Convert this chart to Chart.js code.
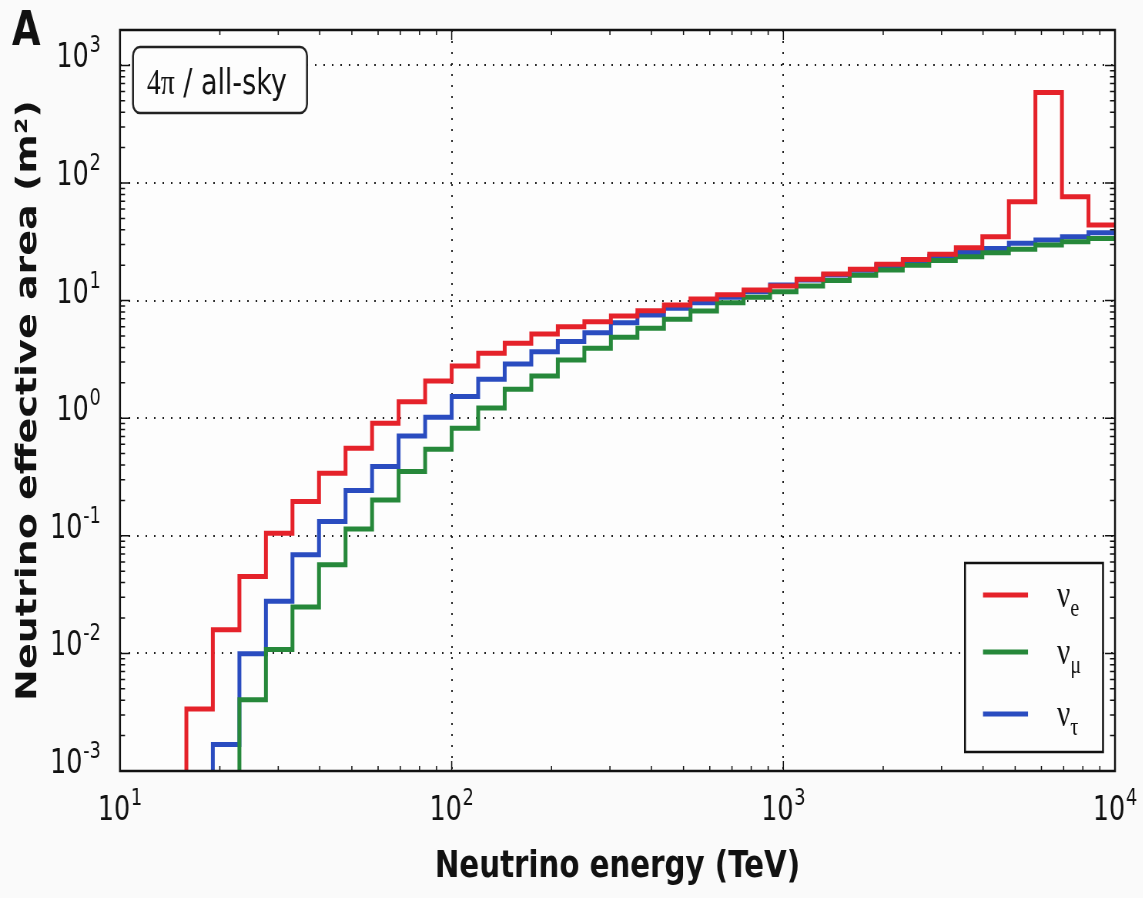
<!DOCTYPE html>
<html>
<head>
<meta charset="utf-8">
<title>Neutrino effective area</title>
<script src="https://cdn.jsdelivr.net/npm/chart.js@4.4.1/dist/chart.umd.min.js"></script>
<style>
    html, body { margin: 0; padding: 0; background: #fafafa; overflow: hidden; }
    /* the source figure is squeezed horizontally, so draw wide and squeeze */
    #wrap { position: absolute; left: 0; top: 0; width: 1485px; height: 898px;
            transform: scaleX(0.77); transform-origin: 0 0; }
</style>
</head>
<body>
<div id="wrap"><canvas id="chart" width="1485" height="898"></canvas></div>
<script>
const SX = 0.77;

// bin edges (TeV), 0.08 dex wide
const binEdges = [15.85, 19.05, 22.91, 27.54, 33.11, 39.81, 47.86, 57.54, 69.18, 83.18,
    100, 120.2, 144.5, 173.8, 208.9, 251.2, 302.0, 363.1, 436.5, 524.8,
    631.0, 758.6, 912.0, 1096, 1318, 1585, 1905, 2291, 2754, 3311,
    3981, 4786, 5754, 6918, 8318, 10000];

// effective area per bin (m^2)
const nuE = [0.00337, 0.0159, 0.045, 0.105, 0.196, 0.341, 0.556, 0.908, 1.38, 2.07,
    2.78, 3.57, 4.34, 5.2, 6.0, 6.62, 7.4, 8.2, 9.18, 10.3,
    11.2, 12.3, 13.3, 15.2, 16.8, 18.5, 20.4, 22.4, 24.8, 28.2,
    34.9, 69.2, 589, 76.3, 43.9];
const nuMu = [null, null, 0.00404, 0.0108, 0.0248, 0.0567, 0.114, 0.202, 0.352, 0.545,
    0.82, 1.22, 1.76, 2.29, 3.13, 3.93, 4.88, 5.82, 6.94, 8.16,
    9.6, 10.7, 11.9, 13.3, 14.8, 16.4, 18.2, 20.0, 21.9, 23.6,
    25.5, 27.3, 29.7, 31.6, 33.8];
const nuTau = [null, 0.00168, 0.00993, 0.0277, 0.069, 0.132, 0.243, 0.388, 0.707, 1.02,
    1.53, 2.14, 2.89, 3.68, 4.48, 5.34, 6.49, 7.55, 8.6, 9.6,
    10.7, 11.9, 13.6, 15.0, 16.5, 18.1, 19.9, 21.9, 23.8, 25.6,
    27.8, 30.7, 32.7, 34.9, 37.8];

const seriesNames = ['e', 'μ', 'τ'];
const seriesColors = ['#e5222a', '#26883a', '#2a4cc0'];

// tick labels are "10" with these exponents
const xTickValues = [10, 100, 1000, 10000];
const xTickExps = ['1', '2', '3', '4'];
const yTickValues = [0.001, 0.01, 0.1, 1, 10, 100, 1000];
const yTickExps = ['-3', '-2', '-1', '0', '1', '2', '3'];
const xMin = 10, xMax = 10000, yMin = 0.001, yMax = 2000;

// decade ticks plus 2..9 minor ticks
function logTicks(decades, min, max) {
    const out = [];
    decades.forEach((d) => {
        for (let m = 1; m <= 9; m++) {
            const v = d * m;
            if (v >= min && v <= max) out.push({ value: v, major: m === 1 });
        }
    });
    return out;
}

// histogram outline: rise from below the axis, then one level per bin
function stepPoints(values) {
    const first = values.findIndex((v) => v != null);
    const pts = [{ x: binEdges[first], y: 1e-4 }];
    for (let i = first; i < values.length; i++) {
        pts.push({ x: binEdges[i], y: values[i] });
    }
    pts.push({ x: binEdges[values.length], y: values[values.length - 1] });
    return pts;
}

const BASE_FONT = '33px "DejaVu Sans"';
const EXP_FONT = '23px "DejaVu Sans"';

function powerLabel(ctx, exp, x, baseline, align) {
    ctx.font = BASE_FONT;
    const wb = ctx.measureText('10').width;
    ctx.font = EXP_FONT;
    const we = ctx.measureText(exp).width;
    const total = wb + 1 + we;
    const left = align === 'right' ? x - total : x - total / 2;
    ctx.font = BASE_FONT;
    ctx.fillText('10', left, baseline);
    ctx.font = EXP_FONT;
    ctx.fillText(exp, left + wb + 1, baseline - 15);
}

const decor = {
    id: 'decor',
    beforeDraw(chart) {
        const { ctx, chartArea: a } = chart;
        ctx.save();
        ctx.fillStyle = '#fdfdfd';
        ctx.fillRect(a.left, a.top, a.width, a.height);
        ctx.restore();
    },
    afterDatasetsDraw(chart) {
        const { ctx, chartArea: a, scales: { x, y } } = chart;
        ctx.save();
        ctx.strokeStyle = '#111';
        ctx.lineWidth = 1.5;
        ctx.beginPath();
        x.ticks.forEach((t) => {
            const px = x.getPixelForValue(t.value);
            const len = t.major ? 10 : 5;
            ctx.moveTo(px, a.bottom); ctx.lineTo(px, a.bottom - len);
            ctx.moveTo(px, a.top); ctx.lineTo(px, a.top + len);
        });
        y.ticks.forEach((t) => {
            const py = y.getPixelForValue(t.value);
            const len = (t.major ? 10 : 5) / SX;
            ctx.moveTo(a.left, py); ctx.lineTo(a.left + len, py);
            ctx.moveTo(a.right, py); ctx.lineTo(a.right - len, py);
        });
        ctx.stroke();

        // frame
        ctx.lineWidth = 2.5;
        ctx.strokeRect(a.left, a.top, a.width, a.height);

        // tick labels
        ctx.fillStyle = '#111';
        ctx.textBaseline = 'alphabetic';
        xTickValues.forEach((v, i) => {
            powerLabel(ctx, xTickExps[i], x.getPixelForValue(v), a.bottom + 49, 'center');
        });
        yTickValues.forEach((v, i) => {
            powerLabel(ctx, yTickExps[i], a.left - 25, y.getPixelForValue(v) + 2, 'right');
        });

        // panel letter
        ctx.font = 'bold 48px "DejaVu Sans"';
        ctx.fillText('A', 12 / SX, 45);

        // "4π / all-sky" box
        const bx = a.left + 13 / SX, by = a.top + 17, bw = 174 / SX, bh = 66;
        ctx.lineWidth = 2.5;
        ctx.strokeStyle = '#222';
        ctx.fillStyle = '#fdfdfd';
        ctx.beginPath();
        ctx.roundRect(bx, by, bw, bh, 9);
        ctx.fill();
        ctx.stroke();
        ctx.fillStyle = '#111';
        ctx.font = '36px "Liberation Serif"';
        const tx = bx + 18;
        ctx.fillText('4π', tx, by + 47);
        const w1 = ctx.measureText('4π').width;
        ctx.font = '35px "DejaVu Sans"';
        ctx.fillText(' / all-sky', tx + w1, by + 47);

        // legend
        const lw = 138 / SX, lh = 189;
        const lx = a.right - 12 / SX - lw, ly = a.bottom - 19 - lh;
        ctx.fillStyle = '#fdfdfd';
        ctx.fillRect(lx, ly, lw, lh);
        ctx.strokeStyle = '#111';
        ctx.lineWidth = 2.5;
        ctx.strokeRect(lx, ly, lw, lh);
        const rowY = [32, 89, 151];
        chart.data.datasets.forEach((ds, i) => {
            const ry = ly + rowY[i];
            ctx.strokeStyle = ds.borderColor;
            ctx.lineWidth = 5;
            ctx.beginPath();
            ctx.moveTo(lx + 18 / SX, ry);
            ctx.lineTo(lx + 63 / SX, ry);
            ctx.stroke();
            ctx.fillStyle = '#111';
            ctx.font = '38px "Liberation Serif"';
            ctx.fillText('ν', lx + 92 / SX, ry + 12);
            const nw = ctx.measureText('ν').width;
            ctx.font = '26px "Liberation Serif"';
            ctx.fillText(seriesNames[i], lx + 92 / SX + nw, ry + 21);
        });
        ctx.restore();
    },
};

const gridColor = (c) => (c.tick && c.tick.major ? '#222' : 'rgba(0,0,0,0)');

new Chart(document.getElementById('chart'), {
    type: 'line',
    data: {
        datasets: [nuE, nuMu, nuTau].map((vals, i) => ({
            label: 'ν' + seriesNames[i],
            data: stepPoints(vals),
            borderColor: seriesColors[i],
            borderWidth: 5,
            stepped: 'before',
            pointRadius: 0,
            fill: false,
            clip: 0,
        })),
    },
    options: {
        responsive: false,
        animation: false,
        devicePixelRatio: 1,
        layout: { padding: { top: 30, right: 1485 - 1115 / SX, left: 0, bottom: 0 } },
        plugins: { legend: { display: false }, tooltip: { enabled: false } },
        scales: {
            x: {
                type: 'logarithmic',
                min: xMin,
                max: xMax,
                afterBuildTicks: (s) => { s.ticks = logTicks(xTickValues, xMin, xMax); },
                afterFit: (s) => { s.height = 898 - 771; },
                grid: { color: gridColor, lineWidth: 2, drawTicks: false },
                border: { display: false, dash: [2, 9] },
                ticks: { display: false, autoSkip: false },
                title: {
                    display: true,
                    text: 'Neutrino energy (TeV)',
                    color: '#111',
                    font: { family: 'DejaVu Sans', size: 38, weight: 'bold' },
                    padding: { top: 0, bottom: 8 },
                },
            },
            y: {
                type: 'logarithmic',
                min: yMin,
                max: yMax,
                afterBuildTicks: (s) => { s.ticks = logTicks(yTickValues, yMin, yMax); },
                afterFit: (s) => { s.width = 120 / SX; },
                grid: { color: gridColor, lineWidth: 2, drawTicks: false },
                border: { display: false, dash: [2, 9] },
                ticks: { display: false, autoSkip: false },
                title: {
                    display: true,
                    text: 'Neutrino effective area (m²)',
                    color: '#111',
                    font: { family: 'DejaVu Sans', size: 38, weight: 'bold' },
                    padding: { top: 14, bottom: 0 },
                },
            },
        },
    },
    plugins: [decor],
});
</script>
</body>
</html>
